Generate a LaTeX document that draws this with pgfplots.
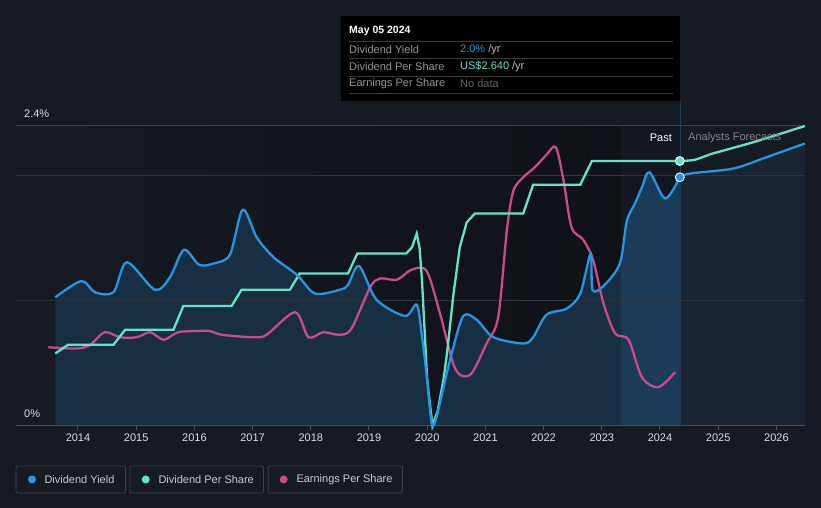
\documentclass[border=0pt]{standalone}
\usepackage{pgfplots}
\pgfplotsset{compat=1.18}
\usepackage{pgfplotstable}
\usepackage{fontspec}
\setmainfont{Liberation Sans}
\usetikzlibrary{backgrounds}

\definecolor{bgc}{RGB}{22,26,34}
\definecolor{pastdark}{RGB}{14,17,22}
\definecolor{yieldc}{RGB}{38,150,226}
\definecolor{dpsc}{RGB}{98,228,200}
\definecolor{epsc}{RGB}{200,76,140}
\definecolor{fillpast}{RGB}{24,46,66}
\definecolor{bandc}{RGB}{19,24,32}
\definecolor{fillband}{RGB}{27,60,88}
\definecolor{fillfc}{RGB}{25,36,50}
\definecolor{gridc}{RGB}{46,50,58}
\definecolor{gridtop}{RGB}{62,66,74}
\definecolor{axisc}{RGB}{74,78,87}
\definecolor{ticktext}{RGB}{220,222,226}
\definecolor{legtext}{RGB}{200,204,210}
\definecolor{legbox}{RGB}{60,65,75}
\definecolor{tipline}{RGB}{58,58,58}
\definecolor{tipgrey}{RGB}{150,150,150}
\definecolor{tipunit}{RGB}{190,190,190}
\definecolor{tipdim}{RGB}{100,100,100}
\definecolor{nowline}{RGB}{32,58,85}

% dividend yield, past (year, %)
\pgfplotstableread{
x y
2013.61 1.03
2014.06 1.16
2014.29 1.07
2014.61 1.07
2014.84 1.31
2015.32 1.09
2015.58 1.19
2015.82 1.41
2016.08 1.29
2016.33 1.30
2016.61 1.37
2016.83 1.73
2017.07 1.51
2017.36 1.35
2017.76 1.21
2018.07 1.06
2018.50 1.09
2018.64 1.13
2018.83 1.28
2019.13 1.01
2019.62 0.88
2019.82 0.97
2019.91 0.72
2020.00 0.37
2020.10 0.00
2020.31 0.37
2020.42 0.58
2020.62 0.88
2020.85 0.85
2021.14 0.71
2021.65 0.66
2021.82 0.71
2022.05 0.89
2022.40 0.94
2022.63 1.06
2022.81 1.38
2022.84 1.09
2023.03 1.12
2023.31 1.30
2023.43 1.64
2023.57 1.78
2023.69 1.91
2023.82 2.03
2024.09 1.82
2024.34 1.99
}\yieldpast

\pgfplotstableread{
x y
2023.33 1.33
2023.43 1.64
2023.57 1.78
2023.69 1.91
2023.82 2.03
2024.09 1.82
2024.34 1.99
}\yieldband

\pgfplotstableread{
x y
2024.34 1.99
2024.52 2.02
2025.26 2.06
2025.83 2.15
2026.49 2.26
}\yieldfc

% dividend per share, drawn on the same visual scale
\pgfplotstableread{
x y
2013.61 0.58
2013.83 0.65
2014.61 0.65
2014.81 0.77
2015.64 0.77
2015.81 0.96
2016.64 0.96
2016.81 1.09
2017.64 1.09
2017.81 1.22
2018.64 1.22
2018.80 1.38
2019.64 1.38
2019.74 1.43
2019.82 1.54
2019.87 1.42
2019.91 1.17
2020.00 0.37
2020.09 0.00
2020.18 0.12
2020.28 0.37
2020.34 0.58
2020.45 1.05
2020.56 1.43
2020.68 1.63
2020.82 1.70
2021.65 1.70
2021.82 1.93
2022.63 1.93
2022.83 2.12
2024.34 2.12
}\dpspast

\pgfplotstableread{
x y
2024.34 2.12
2024.60 2.13
2024.91 2.18
2025.60 2.27
2026.49 2.40
}\dpsfc

% earnings per share, drawn on the same visual scale
\pgfplotstableread{
x y
2013.49 0.63
2013.98 0.62
2014.21 0.65
2014.46 0.75
2014.72 0.71
2015.01 0.71
2015.24 0.75
2015.47 0.69
2015.72 0.75
2016.04 0.76
2016.27 0.76
2016.47 0.73
2017.01 0.71
2017.24 0.73
2017.73 0.91
2017.96 0.71
2018.21 0.75
2018.50 0.73
2018.70 0.78
2019.02 1.11
2019.19 1.18
2019.48 1.17
2019.73 1.25
2019.99 1.24
2020.22 0.90
2020.48 0.46
2020.74 0.41
2021.02 0.66
2021.22 0.87
2021.37 1.57
2021.48 1.88
2021.65 1.99
2021.85 2.07
2022.05 2.17
2022.21 2.23
2022.34 1.97
2022.48 1.59
2022.68 1.49
2022.85 1.33
2023.03 0.98
2023.23 0.74
2023.46 0.69
2023.69 0.39
2023.97 0.31
2024.26 0.43
}\epspast

\begin{document}
\begin{tikzpicture}
\begin{axis}[
    x=58.2pt, y=125pt,
    xmin=2012.935, xmax=2026.49,
    ymin=0, ymax=2.4,
    clip=false,
    axis x line*=bottom,
    axis y line=none,
    x axis line style={draw=axisc, line width=1pt, -},
    xtick={2014,2015,2016,2017,2018,2019,2020,2021,2022,2023,2024,2025,2026},
    xticklabels={2014,2015,2016,2017,2018,2019,2020,2021,2022,2023,2024,2025,2026},
    xtick style={draw=axisc, line width=1pt},
    major tick length=4pt,
    tick align=outside,
    x tick label style={font=\fontsize{11}{13}\selectfont, text=ticktext},
  ]
  \coordinate (O) at (axis cs:2012.660,3.408);

  % backgrounds of past region and highlighted band
  \shade[left color=bgc, right color=pastdark] (axis cs:2013.61,0) rectangle (axis cs:2023.33,2.4);
  \fill[bandc] (axis cs:2023.33,0) rectangle (axis cs:2024.35,2.4);

  % area under dividend yield
  \addplot[draw=none, fill=fillpast, smooth] table {\yieldpast} \closedcycle;
  \addplot[draw=none, fill=fillband, smooth] table {\yieldband} \closedcycle;
  \addplot[draw=none, fill=fillfc, smooth] table {\yieldfc} \closedcycle;

  % grid lines
  \draw[gridtop, line width=1pt] (axis cs:2012.935,2.4) -- (axis cs:2026.49,2.4);
  \draw[gridc, line width=1pt] (axis cs:2012.935,2.0) -- (axis cs:2026.49,2.0);
  \draw[gridc, line width=1pt] (axis cs:2012.935,1.0) -- (axis cs:2026.49,1.0);
  \draw[axisc, line width=1pt] (axis cs:2012.935,0) -- (axis cs:2026.49,0);

  % "now" line
  \draw[nowline, line width=1pt] (axis cs:2024.36,0) -- (axis cs:2024.36,2.6);

  % series
  \addplot[epsc, line width=2.3pt, smooth] table {\epspast};
  \addplot[dpsc, line width=2.3pt] table {\dpspast};
  \addplot[dpsc, line width=2.3pt, smooth] table {\dpsfc};
  \addplot[yieldc, line width=2.3pt, smooth] table {\yieldpast};
  \addplot[yieldc, line width=2.3pt, smooth] table {\yieldfc};

  \addplot[only marks, mark=*, mark size=4.5pt, mark options={fill=dpsc, draw=white, line width=0.8pt}] coordinates {(2024.34,2.12)};
  \addplot[only marks, mark=*, mark size=4.5pt, mark options={fill=yieldc, draw=white, line width=0.8pt}] coordinates {(2024.34,1.99)};
\end{axis}

\begin{scope}[shift={(O)}, x=1pt, y=-1pt, font=\fontsize{11}{13}\selectfont]
  % y labels
  \node[anchor=west, inner sep=0, text=ticktext] at (24,114) {2.4\%};
  \node[anchor=west, inner sep=0, text=ticktext] at (24,414) {0\%};

  % past / forecast labels
  \node[anchor=east, inner sep=0, text=white] at (672,138) {Past};
  \node[anchor=west, inner sep=0, text={rgb,255:red,128;green,133;blue,142}] at (688,138) {Analysts Forecasts};

  % tooltip
  \fill[black] (341,16) rectangle (680,101);
  \foreach \yy in {41.5,58.5,76,93.5} \draw[tipline, line width=0.8pt] (349,\yy) -- (673,\yy);
  \node[anchor=west, inner sep=0, text=white, font=\bfseries\fontsize{10.5}{12}\selectfont] at (349,31.3) {May 05 2024};
  \node[anchor=west, inner sep=0, text=tipgrey] at (349,49.5) {Dividend Yield};
  \node[anchor=west, inner sep=0, text=tipgrey] at (349,66.3) {Dividend Per Share};
  \node[anchor=west, inner sep=0, text=tipgrey] at (349,83.6) {Earnings Per Share};
  \node[anchor=west, inner sep=0] at (460,49.5) {\textcolor{yieldc}{2.0\%}\ \textcolor{tipunit}{/yr}};
  \node[anchor=west, inner sep=0] at (460,66.3) {\textcolor{dpsc}{US\$2.640}\ \textcolor{tipunit}{/yr}};
  \node[anchor=west, inner sep=0, text=tipdim] at (460,83.6) {No data};

  % legend
  \draw[legbox, line width=0.8pt, rounded corners=2pt] (16,466) rectangle (125.5,493);
  \draw[legbox, line width=0.8pt, rounded corners=2pt] (130,466) rectangle (263.5,493);
  \draw[legbox, line width=0.8pt, rounded corners=2pt] (268.3,466) rectangle (402.5,493);
  \fill[yieldc] (32,479.5) circle (4);
  \fill[dpsc] (145.7,479.5) circle (4);
  \fill[epsc] (283.7,479.5) circle (4);
  \node[anchor=west, inner sep=0, text=legtext] at (44.3,479.5) {Dividend Yield};
  \node[anchor=west, inner sep=0, text=legtext] at (158.3,479.5) {Dividend Per Share};
  \node[anchor=west, inner sep=0, text=legtext] at (296.3,479.5) {Earnings Per Share};
\end{scope}

\begin{scope}[on background layer]
  \fill[bgc] ([shift={(0pt,0pt)}]O) rectangle ([shift={(821pt,-508pt)}]O);
\end{scope}
\end{tikzpicture}
\end{document}
